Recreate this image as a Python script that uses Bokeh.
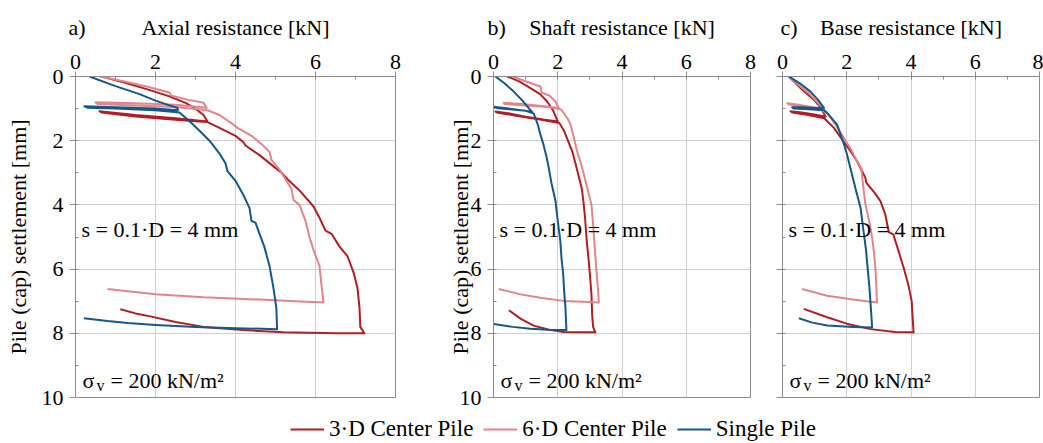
from bokeh.plotting import figure
from bokeh.models import Range1d, SingleIntervalTicker, Label, Legend, LegendItem
from bokeh.core.properties import value
from bokeh.layouts import row, column
from bokeh.embed import file_html
from bokeh.resources import INLINE

# ---------------- data ----------------
series_names = ["3·D Center Pile", "6·D Center Pile", "Single Pile"]
panel_titles = ["Axial resistance [kN]", "Shaft resistance [kN]", "Base resistance [kN]"]
panel_tags = ["a)", "b)", "c)"]
y_title = "Pile (cap) settlement [mm]"
x_ticks = [0, 2, 4, 6, 8]
y_ticks = [0, 2, 4, 6, 8, 10]
note_s = "s = 0.1·D = 4 mm"
note_sigma = ["σ", "v", "= 200 kN/m²"]

# a) Axial resistance
a_3d_x = [0.65, 1.2, 1.8, 2.35, 2.75, 3.0, 3.2, 3.3, 2.5, 1.5, 0.6, 0.65, 1.5, 2.5, 3.1, 3.3,
          3.6, 4.0, 4.2, 4.25, 4.6, 4.95, 5.15, 5.3, 5.6, 5.95, 6.1, 6.25, 6.4, 6.6, 6.8, 6.95,
          7.05, 7.1, 7.12, 7.22, 6.5, 5.2, 4.2, 3.2, 2.5, 1.9, 1.5, 1.12]
a_3d_y = [0.0, 0.18, 0.4, 0.62, 0.82, 1.0, 1.2, 1.4, 1.3, 1.2, 1.08, 1.12, 1.25, 1.35, 1.4, 1.42,
          1.6, 1.85, 2.05, 2.15, 2.45, 2.8, 3.0, 3.2, 3.55, 4.05, 4.4, 4.8, 4.9, 5.3, 5.6, 6.1,
          6.6, 7.2, 7.8, 8.0, 8.0, 7.97, 7.9, 7.8, 7.65, 7.48, 7.38, 7.25]
a_6d_x = [0.6, 1.2, 1.8, 2.35, 2.4, 2.8, 3.2, 3.28, 2.5, 1.5, 0.5, 0.55, 1.5, 2.5, 3.3,
          3.6, 3.95, 4.05, 4.4, 4.65, 4.85, 4.9, 5.1, 5.25, 5.4, 5.45, 5.6, 5.75, 5.85, 5.95,
          6.1, 6.15, 6.2, 5.5, 4.6, 3.2, 2.0, 0.8]
a_6d_y = [0.0, 0.15, 0.32, 0.5, 0.6, 0.72, 0.82, 0.97, 0.88, 0.83, 0.8, 0.86, 0.9, 0.95, 1.05,
          1.2, 1.5, 1.6, 1.85, 2.1, 2.35, 2.6, 2.9, 3.2, 3.5, 3.85, 4.0, 4.5, 5.0, 5.4,
          5.9, 6.5, 7.04, 7.0, 6.95, 6.88, 6.78, 6.62]
a_sp_x = [0.35, 1.0, 1.6, 2.0, 2.35, 2.55, 2.56, 2.0, 1.0, 0.22, 0.3, 1.0, 2.0, 2.6,
          2.9, 3.15, 3.35, 3.6, 3.75, 3.8, 4.0, 4.2, 4.35, 4.4, 4.5, 4.6, 4.72, 4.85, 4.95,
          5.02, 5.04, 4.0, 3.0, 2.0, 1.3, 0.8, 0.21]
a_sp_y = [0.0, 0.3, 0.55, 0.75, 0.9, 0.98, 1.05, 1.0, 0.96, 0.93, 0.97, 1.0, 1.05, 1.12,
          1.45, 1.75, 2.0, 2.4, 2.7, 2.95, 3.25, 3.7, 4.1, 4.5, 4.55, 4.9, 5.3, 5.9, 6.6,
          7.2, 7.87, 7.84, 7.8, 7.74, 7.68, 7.62, 7.53]

# b) Shaft resistance
b_3d_x = [0.43, 0.8, 1.15, 1.45, 1.67, 1.85, 1.98, 2.0, 1.6, 1.0, 0.5, 0.06, 0.1, 0.7, 1.4, 2.05,
          2.2, 2.3, 2.45, 2.55, 2.65, 2.75, 2.8, 2.85, 2.9, 2.95, 3.0, 3.05, 3.07, 3.1, 3.17,
          2.6, 2.19, 1.7, 1.25, 0.85, 0.48]
b_3d_y = [0.0, 0.15, 0.36, 0.55, 0.78, 1.05, 1.35, 1.4, 1.35, 1.25, 1.15, 1.09, 1.12, 1.22, 1.33, 1.45,
          1.7, 1.95, 2.33, 2.7, 3.1, 3.5, 3.9, 4.4, 5.1, 5.6, 6.15, 6.8, 7.4, 7.8, 7.97,
          7.97, 7.96, 7.88, 7.76, 7.55, 7.28]
b_6d_x = [0.58, 1.0, 1.46, 1.5, 1.75, 1.93, 2.03, 1.5, 0.9, 0.32, 0.35, 1.0, 1.7, 2.1,
          2.3, 2.4, 2.5, 2.6, 2.75, 2.85, 3.0, 3.05, 3.1, 3.15, 3.2, 3.25, 3.28,
          2.8, 2.19, 1.5, 0.8, 0.16]
b_6d_y = [0.0, 0.15, 0.31, 0.5, 0.6, 0.78, 0.98, 0.92, 0.86, 0.82, 0.86, 0.9, 0.95, 1.02,
          1.3, 1.5, 1.9, 2.33, 2.8, 3.2, 3.8, 4.0, 4.6, 5.3, 6.0, 6.6, 7.04,
          7.02, 6.99, 6.9, 6.78, 6.62]
b_sp_x = [0.06, 0.35, 0.63, 0.9, 1.15, 1.2, 0.8, 0.4, 0.01, 0.05, 0.5, 1.0, 1.25,
          1.38, 1.46, 1.55, 1.65, 1.72, 1.8, 1.93, 2.0, 2.08, 2.12, 2.17, 2.2, 2.24, 2.27,
          1.7, 1.15, 0.6, 0.01]
b_sp_y = [0.0, 0.22, 0.47, 0.75, 1.05, 1.1, 1.04, 0.99, 0.94, 0.98, 1.02, 1.07, 1.15,
          1.5, 1.81, 2.1, 2.5, 2.85, 3.3, 3.88, 4.5, 5.12, 5.7, 6.16, 6.7, 7.2, 7.9,
          7.89, 7.86, 7.8, 7.71]

# c) Base resistance
c_3d_x = [0.2, 0.6, 1.0, 1.18, 1.34, 1.0, 0.6, 0.25, 0.3, 0.8, 1.3,
          1.6, 1.86, 2.1, 2.32, 2.58, 2.6, 2.85, 3.05, 3.2, 3.31, 3.45, 3.6, 3.77, 3.92,
          4.02, 4.05, 4.08, 3.5, 2.74, 2.0, 1.39, 0.66]
c_3d_y = [0.0, 0.4, 0.75, 0.95, 1.25, 1.18, 1.12, 1.08, 1.12, 1.2, 1.3,
          1.6, 1.97, 2.3, 2.64, 3.15, 3.3, 3.6, 3.88, 4.3, 4.85, 4.92, 5.4, 5.95, 6.5,
          6.99, 7.5, 7.97, 7.96, 7.87, 7.7, 7.5, 7.24]
c_6d_x = [0.2, 0.55, 0.87, 1.1, 1.29, 0.9, 0.5, 0.15, 0.2, 0.7, 1.2, 1.4,
          1.65, 1.91, 2.15, 2.32, 2.45, 2.5, 2.58, 2.7, 2.79, 2.85, 2.89, 2.92, 2.94,
          2.3, 1.39, 0.61]
c_6d_y = [0.0, 0.3, 0.57, 0.82, 1.03, 0.95, 0.88, 0.83, 0.87, 0.95, 1.05, 1.15,
          1.5, 1.92, 2.3, 2.64, 2.85, 3.3, 3.98, 4.5, 5.02, 5.5, 5.95, 6.5, 7.04,
          6.96, 6.83, 6.62]
c_sp_x = [0.2, 0.55, 0.87, 1.1, 1.29, 0.9, 0.6, 0.3, 0.35, 0.8, 1.3, 1.45,
          1.7, 1.91, 2.0, 2.06, 2.2, 2.3, 2.43, 2.52, 2.6, 2.63, 2.7, 2.75, 2.79,
          2.2, 1.39, 0.9, 0.51]
c_sp_y = [0.0, 0.22, 0.47, 0.72, 0.98, 0.97, 0.96, 0.96, 1.0, 1.02, 1.05, 1.2,
          1.5, 2.1, 2.4, 2.64, 3.2, 3.6, 4.09, 4.8, 5.4, 5.75, 6.5, 7.2, 7.82,
          7.8, 7.76, 7.66, 7.53]

panels = [
    [(a_3d_x, a_3d_y), (a_6d_x, a_6d_y), (a_sp_x, a_sp_y)],
    [(b_3d_x, b_3d_y), (b_6d_x, b_6d_y), (b_sp_x, b_sp_y)],
    [(c_3d_x, c_3d_y), (c_6d_x, c_6d_y), (c_sp_x, c_sp_y)],
]

# ---------------- style / layout ----------------
COLORS = ["#B01E24", "#E0868A", "#14578A"]
FONT = "Liberation Serif"
FS = "22px"
AXIS_COLOR = "#8c8c8c"
GRID_COLOR = "#cfcfcf"
W_TOTAL = 1043
HEADER_H = 42
FRAME_H = 321
TOP = 34
BOTTOM = 13
LEGEND_H = 443 - HEADER_H - TOP - FRAME_H - BOTTOM

specs = [
    # width, min_border_left, min_border_right, show y labels, label standoff
    (440, 75, 45, True, 8),
    (329, 53, 19, True, -16),
    (274, 13, 4, False, 0),
]

figs = []
frame_lefts, frame_widths = [], []
cum = 0
for i, (w, bl, br, show_y, lab_stand) in enumerate(specs):
    frame_lefts.append(cum + bl)
    frame_widths.append(w - bl - br)
    cum += w
    p = figure(width=w, height=TOP + FRAME_H + BOTTOM,
               x_range=Range1d(x_ticks[0], x_ticks[-1]),
               y_range=Range1d(y_ticks[-1], y_ticks[0]),
               x_axis_location="above", output_backend="svg",
               toolbar_location=None, title=None,
               min_border_left=bl, min_border_right=br,
               min_border_top=TOP, min_border_bottom=BOTTOM)
    p.background_fill_color = "white"
    p.border_fill_color = "white"
    p.outline_line_color = AXIS_COLOR
    p.outline_line_width = 1

    p.xaxis.ticker = SingleIntervalTicker(interval=2, num_minor_ticks=2)
    p.yaxis.ticker = SingleIntervalTicker(interval=2, num_minor_ticks=2)
    if show_y:
        p.yaxis.axis_label = y_title
        p.yaxis.axis_label_standoff = lab_stand
    else:
        p.yaxis.major_label_overrides = {t: "" for t in y_ticks}
    for ax in (p.xaxis[0], p.yaxis[0]):
        ax.axis_line_color = AXIS_COLOR
        ax.major_tick_line_color = AXIS_COLOR
        ax.minor_tick_line_color = AXIS_COLOR
        ax.major_tick_in = 0
        ax.major_tick_out = 6
        ax.minor_tick_in = 3
        ax.minor_tick_out = 0
        ax.major_label_text_font = FONT
        ax.major_label_text_font_size = FS
        ax.major_label_text_color = "black"
        ax.major_label_standoff = 6
        ax.axis_label_text_font = FONT
        ax.axis_label_text_font_size = FS
        ax.axis_label_text_font_style = "normal"
        ax.axis_label_text_color = "black"
    p.xaxis.major_tick_out = 5
    p.xaxis.major_label_standoff = 3
    p.xaxis.major_label_orientation = "horizontal"

    p.xgrid.grid_line_color = GRID_COLOR
    p.ygrid.grid_line_color = GRID_COLOR
    p.xgrid.grid_line_width = 1
    p.ygrid.grid_line_width = 1

    for (xs, ys), col in zip(panels[i], COLORS):
        p.line(xs, ys, line_color=col, line_width=2, line_join="round")

    # annotations inside the frame
    p.add_layout(Label(x=0, y=4.78, x_offset=6, text=note_s, text_font=FONT,
                       text_font_size=FS, text_color="black", text_baseline="alphabetic"))
    p.add_layout(Label(x=0, y=9.47, x_offset=7, text=note_sigma[0], text_font=FONT,
                       text_font_size=FS, text_color="black", text_baseline="alphabetic"))
    p.add_layout(Label(x=0, y=9.47, x_offset=21, y_offset=-5, text=note_sigma[1], text_font=FONT,
                       text_font_size="16px", text_color="black", text_baseline="alphabetic"))
    p.add_layout(Label(x=0, y=9.47, x_offset=35, text=note_sigma[2], text_font=FONT,
                       text_font_size=FS, text_color="black", text_baseline="alphabetic"))
    figs.append(p)

# ---------------- header strip: panel tags + axis titles ----------------
hdr = figure(width=W_TOTAL, height=HEADER_H, output_backend="svg", toolbar_location=None,
             x_range=Range1d(0, W_TOTAL), y_range=Range1d(HEADER_H, 0), title=None,
             min_border=0, min_border_left=0, min_border_right=0,
             min_border_top=0, min_border_bottom=0)
hdr.axis.visible = False
hdr.grid.visible = False
hdr.outline_line_color = None
tag_shift = [-7, -6, -2]
hdr.text(x=[l + s for l, s in zip(frame_lefts, tag_shift)], y=[27] * 3, text=panel_tags,
         text_font=value(FONT), text_font_size=value(FS), text_color="black",
         text_align="left", text_baseline="alphabetic")
hdr.text(x=[l + w / 2 for l, w in zip(frame_lefts, frame_widths)], y=[27] * 3, text=panel_titles,
         text_font=value(FONT), text_font_size=value(FS), text_color="black",
         text_align="center", text_baseline="alphabetic")

# ---------------- legend strip ----------------
lg = figure(width=W_TOTAL, height=LEGEND_H, output_backend="svg", toolbar_location=None,
            x_range=Range1d(-200, -199), y_range=Range1d(-200, -199), title=None,
            min_border=0, min_border_left=0, min_border_right=0,
            min_border_top=0, min_border_bottom=0)
lg.axis.visible = False
lg.grid.visible = False
lg.outline_line_color = None
lg_rs = [lg.line(xs, ys, line_color=c, line_width=2) for (xs, ys), c in zip(panels[0], COLORS)]
legend = Legend(items=[LegendItem(label=n, renderers=[r]) for n, r in zip(series_names, lg_rs)],
                orientation="horizontal", location=(290, 1),
                label_text_font=FONT, label_text_font_size="23px", label_text_color="black",
                glyph_width=34, glyph_height=20, label_standoff=5, spacing=10,
                padding=0, margin=0, border_line_color=None,
                background_fill_alpha=0)
lg.add_layout(legend, "center")

layout = column(hdr, row(*figs), lg)
open("out.html", "w").write(file_html(layout, INLINE))
